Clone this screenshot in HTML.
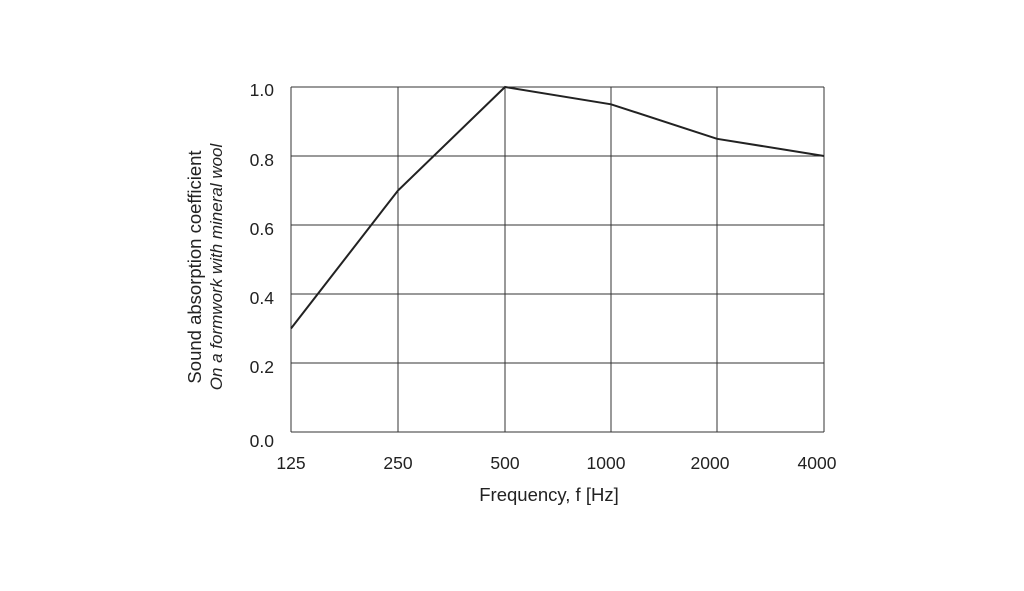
<!DOCTYPE html>
<html><head><style>body{margin:0;background:#fff}</style></head><body>
<svg width="1024" height="586" xmlns="http://www.w3.org/2000/svg" font-family="Liberation Sans, sans-serif" fill="#222">
<rect width="1024" height="586" fill="#fff"/>
<g stroke="#333" stroke-width="1" fill="none">
<line x1="291" y1="87" x2="824" y2="87"/>
<line x1="291" y1="156" x2="824" y2="156"/>
<line x1="291" y1="225" x2="824" y2="225"/>
<line x1="291" y1="294" x2="824" y2="294"/>
<line x1="291" y1="363" x2="824" y2="363"/>
<line x1="291" y1="432" x2="824" y2="432"/>
<line x1="291" y1="87" x2="291" y2="432"/>
<line x1="398" y1="87" x2="398" y2="432"/>
<line x1="505" y1="87" x2="505" y2="432"/>
<line x1="611" y1="87" x2="611" y2="432"/>
<line x1="717" y1="87" x2="717" y2="432"/>
<line x1="824" y1="87" x2="824" y2="432"/>
</g>
<polyline fill="none" stroke="#222" stroke-width="2" points="291,328.5 398,190.5 505,87 611,104.3 717,138.8 824,156"/>
<g font-size="17.5" text-anchor="end">
<text x="274" y="96">1.0</text>
<text x="274" y="166">0.8</text>
<text x="274" y="235">0.6</text>
<text x="274" y="304">0.4</text>
<text x="274" y="373">0.2</text>
<text x="274" y="447">0.0</text>
</g>
<g font-size="17.5" text-anchor="middle">
<text x="291" y="469">125</text>
<text x="398" y="469">250</text>
<text x="505" y="469">500</text>
<text x="606" y="469">1000</text>
<text x="710" y="469">2000</text>
<text x="817" y="469">4000</text>
</g>
<text x="549" y="501" font-size="18.5" text-anchor="middle">Frequency, f [Hz]</text>
<text transform="translate(201,267) rotate(-90)" text-anchor="middle" font-size="18.5">Sound absorption coefficient</text>
<text transform="translate(222,267) rotate(-90)" text-anchor="middle" font-size="17" font-style="italic">On a formwork with mineral wool</text>
</svg>
</body></html>
